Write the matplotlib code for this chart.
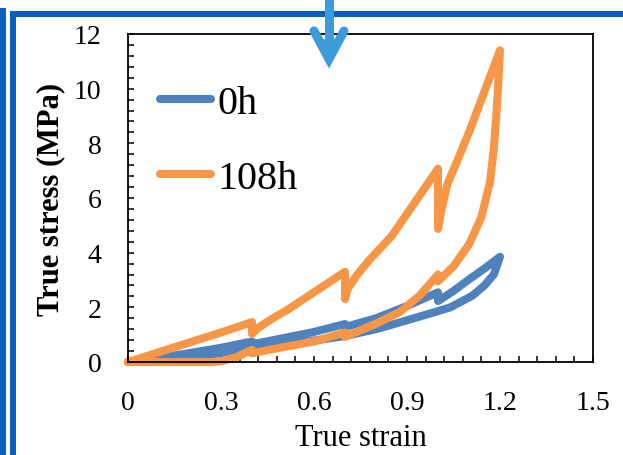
import matplotlib
matplotlib.use("Agg")
import matplotlib.pyplot as plt
from matplotlib.ticker import MultipleLocator

plt.rcParams['font.family'] = ['Liberation Serif', 'DejaVu Serif']

# values
labels = ["0h", "108h"]
colors = ["#4F81BD", "#F79646"]

# 0h: loading with stress relaxation holds, then unloading
h0_load_x = [0, 0.1, 0.2, 0.3, 0.4, 0.4, 0.5, 0.6, 0.7, 0.7, 0.8, 0.9, 1.0, 1.0, 1.05, 1.1, 1.15, 1.2]
h0_load_y = [0, 0.15, 0.33, 0.52, 0.75, 0.65, 0.87, 1.1, 1.39, 1.28, 1.6, 2.05, 2.55, 2.23, 2.6, 3.02, 3.42, 3.85]
h0_unload_x = [1.2, 1.18, 1.15, 1.11, 1.04, 0.97, 0.88, 0.8, 0.7, 0.55, 0.4, 0.25, 0.1, 0.08, 0.0]
h0_unload_y = [3.85, 3.2, 2.8, 2.42, 2.0, 1.76, 1.46, 1.2, 0.95, 0.7, 0.48, 0.25, 0.03, 0, 0]

# 108h
h108_load_x = [0, 0.1, 0.2, 0.3, 0.4, 0.4, 0.42, 0.46, 0.52, 0.6, 0.66, 0.7, 0.7, 0.71, 0.74,
               0.78, 0.85, 0.94, 1.0, 1.0, 1.01, 1.03, 1.06, 1.1, 1.15, 1.2]
h108_load_y = [0, 0.36, 0.72, 1.08, 1.46, 1.03, 1.25, 1.55, 1.95, 2.55, 3.0, 3.3, 2.3, 2.7, 3.2,
               3.75, 4.6, 6.08, 7.07, 4.87, 5.5, 6.5, 7.3, 8.4, 9.9, 11.4]
h108_unload_x = [1.2, 1.195, 1.188, 1.18, 1.168, 1.14, 1.1, 1.05, 1.0, 1.0, 0.94, 0.877, 0.8,
                 0.7, 0.7, 0.6, 0.49, 0.4, 0.4, 0.35, 0.3, 0.27, 0.0]
h108_unload_y = [11.4, 10.3, 9.0, 7.8, 6.6, 5.3, 4.3, 3.5, 2.95, 3.2, 2.42, 1.83, 1.4,
                 0.92, 1.08, 0.75, 0.52, 0.32, 0.45, 0.18, 0.03, 0, 0]

x_ticks = [0, 0.3, 0.6, 0.9, 1.2, 1.5]
x_ticklabels = ["0", "0.3", "0.6", "0.9", "1.2", "1.5"]
y_ticks = [0, 2, 4, 6, 8, 10, 12]

W, H = 623, 456
fig = plt.figure(figsize=(W / 100, H / 100), dpi=100)
ax = fig.add_axes([128 / W, 1 - 363 / H, (593 - 128) / W, (363 - 35) / H])

series = [(h0_load_x + h0_unload_x, h0_load_y + h0_unload_y),
          (h108_load_x + h108_unload_x, h108_load_y + h108_unload_y)]
for (xs, ys), lab, c in zip(series, labels, colors):
    ax.plot(xs, ys, color=c, lw=5.8, label=lab, solid_capstyle='round',
            solid_joinstyle='round', clip_on=False)

ax.set_xlim(0, 1.5)
ax.set_ylim(0, 12)
ax.set_xticks(x_ticks)
ax.set_xticklabels(x_ticklabels)
ax.set_yticks(y_ticks)
ax.xaxis.set_minor_locator(MultipleLocator(0.06))
ax.yaxis.set_minor_locator(MultipleLocator(0.4))
ax.tick_params(which='both', direction='in', length=4.5, width=1.1, labelsize=20,
               top=False, right=False)
ax.tick_params(axis='x', pad=20)
ax.tick_params(axis='y', pad=19)
for s in ax.spines.values():
    s.set_linewidth(1.3)

ax.set_xlabel("True strain", fontsize=22, labelpad=6)
ax.set_ylabel("True stress (MPa)", fontsize=22, fontweight='bold', labelpad=6)

ax.legend(loc='upper left', bbox_to_anchor=(0.069, 0.845), fontsize=29, frameon=False,
          borderpad=0, borderaxespad=0, handlelength=1.27, handletextpad=0.15,
          labelspacing=0.95)

# blue frame and arrow drawn on top in pixel coordinates
ov = fig.add_axes([0, 0, 1, 1], zorder=5)
ov.set_xlim(0, W)
ov.set_ylim(H, 0)
ov.axis('off')
ov.patch.set_alpha(0)
frame_c = "#0A5EBF"
ov.fill_between([0, 5.5], 9, H, color=frame_c, lw=0)
ov.fill_between([10, 16], 12, H, color=frame_c, lw=0)
ov.fill_between([10, W], 12, 17.5, color=frame_c, lw=0)
arrow_c = "#3D9BD9"
ov.plot([329, 329], [0, 58], color=arrow_c, lw=6.5, solid_capstyle='butt')
ov.plot([314, 329, 344], [32, 60, 32], color=arrow_c, lw=6.5,
        solid_capstyle='round', solid_joinstyle='miter')
ov.fill([316, 329, 342, 329], [34, 60, 34, 44], color=arrow_c, lw=0)

fig.savefig("out.png", dpi=100)
